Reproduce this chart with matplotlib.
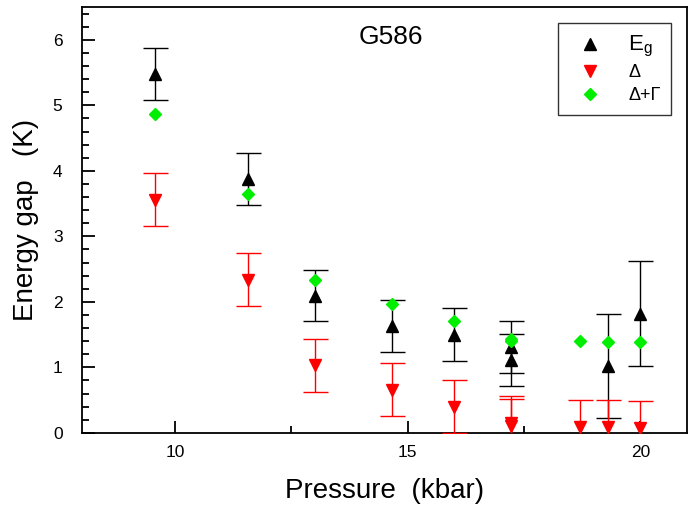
import matplotlib
matplotlib.use("Agg")
import matplotlib.pyplot as plt
from matplotlib.ticker import MultipleLocator, FixedLocator
from matplotlib.lines import Line2D

plt.rcParams['font.family'] = ['Liberation Sans', 'DejaVu Sans']
plt.rcParams['mathtext.fontset'] = 'custom'
plt.rcParams['mathtext.rm'] = 'Liberation Sans'

# Eg (black up triangles)
eg_p = [9.57, 11.57, 13.0, 14.66, 16.0, 17.22, 17.22, 19.3, 20.0]
eg_v = [5.48, 3.88, 2.09, 1.63, 1.50, 1.31, 1.11, 1.02, 1.82]
eg_e = [0.40, 0.40, 0.39, 0.40, 0.40, 0.40, 0.40, 0.80, 0.80]

# Delta (red down triangles)
d_p = [9.57, 11.57, 13.0, 14.66, 16.0, 17.22, 17.22, 18.7, 19.3, 20.0]
d_v = [3.56, 2.34, 1.03, 0.66, 0.40, 0.15, 0.11, 0.09, 0.09, 0.08]
d_e = [0.40, 0.40, 0.40, 0.40, 0.40, 0.41, 0.41, 0.41, 0.41, 0.41]

# Delta + Gamma (green diamonds)
g_p = [9.57, 11.57, 13.0, 14.66, 16.0, 17.22, 17.22, 18.7, 19.3, 20.0]
g_v = [4.87, 3.65, 2.33, 1.97, 1.71, 1.44, 1.40, 1.40, 1.39, 1.38]

labels = [r'E$_\mathregular{g}$', 'Δ', 'Δ+Γ']

fig = plt.figure(figsize=(6.89, 5.11), dpi=100)
ax = fig.add_axes([0.119, 0.153, 0.878, 0.833])

ax.errorbar(eg_p, eg_v, yerr=eg_e, fmt='^', color='black', ms=8,
            ecolor='black', elinewidth=1, capsize=9, capthick=1, zorder=3)
ax.errorbar(d_p, d_v, yerr=d_e, fmt='v', color='#ff0000', ms=8,
            ecolor='#ff0000', elinewidth=1, capsize=9, capthick=1, zorder=3)
ax.plot(g_p, g_v, 'D', color='#00ee00', ms=6, zorder=4)

ax.set_xlim(8, 21)
ax.set_ylim(0, 6.5)
ax.xaxis.set_major_locator(FixedLocator([10, 15, 20]))
ax.xaxis.set_minor_locator(FixedLocator([12.5, 17.5]))
ax.yaxis.set_major_locator(MultipleLocator(1))
ax.yaxis.set_minor_locator(MultipleLocator(0.2))
ax.tick_params(which='both', direction='in', top=False, right=False, labelsize=12.5, width=1.3)
ax.tick_params(which='major', length=9)
ax.tick_params(which='minor', length=5)
ax.tick_params(axis='x', pad=9)
ax.tick_params(axis='y', pad=14)
for s in ax.spines.values():
    s.set_linewidth(1.3)

ax.set_xlabel('Pressure  (kbar)', fontsize=20, labelpad=13)
ax.set_ylabel('Energy gap   (K)', fontsize=20, labelpad=10)
ax.text(0.51, 0.93, 'G586', transform=ax.transAxes, fontsize=19, ha='center', va='center')

handles = [Line2D([], [], ls='none', marker='^', color='black', ms=8),
           Line2D([], [], ls='none', marker='v', color='#ff0000', ms=8),
           Line2D([], [], ls='none', marker='D', color='#00ee00', ms=6)]
leg = ax.legend(handles, labels, loc='upper right', bbox_to_anchor=(0.989, 0.985), fontsize=13,
                frameon=True, fancybox=False, edgecolor='black', handletextpad=0.9,
                borderpad=0.6, labelspacing=0.32, handlelength=2.4)
leg.get_frame().set_linewidth(1.0)
for t in leg.get_texts()[:1]:
    t.set_fontsize(16)

fig.savefig('out.png', dpi=100)
